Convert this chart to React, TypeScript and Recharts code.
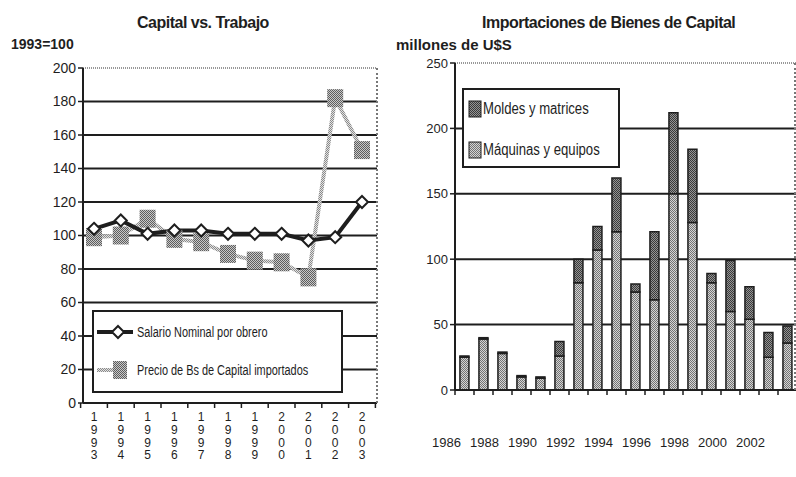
import React from 'react';
import {
  LineChart,
  Line,
  BarChart,
  Bar,
  XAxis,
  YAxis,
  CartesianGrid,
  ReferenceLine,
} from 'recharts';

// Capital vs. Trabajo (1993=100)
const wageYears = ['1993', '1994', '1995', '1996', '1997', '1998', '1999', '2000', '2001', '2002', '2003'];
const salarioNominal = [104, 109, 101, 103, 103, 101, 101, 101, 97, 99, 120];
const precioBsCapital = [99, 100, 110, 98, 96, 89, 85, 84, 75, 182, 151];
const indexTicks = [0, 20, 40, 60, 80, 100, 120, 140, 160, 180, 200];

// Importaciones de Bienes de Capital (millones de U$S)
const importYears = [
  '1986', '1987', '1988', '1989', '1990', '1991', '1992', '1993', '1994',
  '1995', '1996', '1997', '1998', '1999', '2000', '2001', '2002', '2003',
];
const maquinasEquipos = [25, 39, 28, 10, 9, 26, 82, 107, 121, 75, 69, 150, 128, 82, 60, 54, 25, 36];
const moldesMatrices = [1, 1, 1, 1, 1, 11, 18, 18, 41, 6, 52, 62, 56, 7, 39, 25, 19, 13];
const usdTicks = [0, 50, 100, 150, 200, 250];

const wageData = wageYears.map((year, i) => ({
  year,
  salario: salarioNominal[i],
  precio: precioBsCapital[i],
}));

const importData = importYears.map((year, i) => ({
  year,
  maquinas: maquinasEquipos[i],
  moldes: moldesMatrices[i],
}));

const INK = '#1e1e1e';
const FONT = '"Liberation Sans", Arial, Helvetica, sans-serif';
const WAGE_BAND = 26.8;
const IMPORT_BAND = 19;

const Checker = ({ id, light, dark }: { id: string; light: string; dark: string }) => (
  <pattern id={id} width="2" height="2" patternUnits="userSpaceOnUse">
    <rect width="2" height="2" fill={light} />
    <rect width="1" height="1" fill={dark} />
    <rect x="1" y="1" width="1" height="1" fill={dark} />
  </pattern>
);

const Diamond = (props: any) => {
  const { cx, cy } = props;
  if (cx == null || cy == null) return null;
  return (
    <path
      d={`M${cx},${cy - 6} L${cx + 6},${cy} L${cx},${cy + 6} L${cx - 6},${cy} Z`}
      fill="#fff"
      stroke={INK}
      strokeWidth={2}
    />
  );
};

const CheckSquare = (props: any) => {
  const { cx, cy } = props;
  if (cx == null || cy == null) return null;
  return <rect x={cx - 8} y={cy - 9} width={16} height={18} fill="url(#chkMarker)" />;
};

const StackedYearTick = (props: any) => {
  const { x, y, payload, index } = props;
  const digits = String(payload.value).split('');
  return (
    <g>
      {index === 0 && (
        <line x1={x - WAGE_BAND / 2} x2={x - WAGE_BAND / 2} y1={y - 5} y2={y} stroke={INK} strokeWidth={1.5} />
      )}
      <line x1={x + WAGE_BAND / 2} x2={x + WAGE_BAND / 2} y1={y - 5} y2={y} stroke={INK} strokeWidth={1.5} />
      <text x={x} y={y} textAnchor="middle" fontSize={12} fill={INK} fontFamily={FONT}>
        {digits.map((d, i) => (
          <tspan key={i} x={x} dy={i === 0 ? 13 : 12.8}>
            {d}
          </tspan>
        ))}
      </text>
    </g>
  );
};

const ImportYearTick = (props: any) => {
  const { x, y, payload, index } = props;
  const last = index === importYears.length - 1;
  return (
    <g>
      <line x1={x - IMPORT_BAND / 2} x2={x - IMPORT_BAND / 2} y1={y - 5} y2={y} stroke={INK} strokeWidth={1.5} />
      {last && (
        <line x1={x + IMPORT_BAND / 2} x2={x + IMPORT_BAND / 2} y1={y - 5} y2={y} stroke={INK} strokeWidth={1.5} />
      )}
      {index % 2 === 0 && (
        <text x={x - 18} y={y + 52} textAnchor="middle" fontSize={13} fill={INK} fontFamily={FONT}>
          {payload.value}
        </text>
      )}
    </g>
  );
};

const textBase: React.CSSProperties = {
  position: 'absolute',
  whiteSpace: 'nowrap',
  color: INK,
  fontFamily: FONT,
  lineHeight: 1,
};

const App: React.FC = () => {
  return (
    <div
      style={{
        position: 'absolute',
        left: 0,
        top: 0,
        width: 796,
        height: 477,
        background: '#fff',
        overflow: 'hidden',
        fontFamily: FONT,
      }}
    >
      <div style={{ ...textBase, left: 137, top: 15, fontSize: 16, fontWeight: 700, letterSpacing: -0.5 }}>
        Capital vs. Trabajo
      </div>
      <div style={{ ...textBase, left: 11, top: 37, fontSize: 14, fontWeight: 700 }}>1993=100</div>
      <div style={{ ...textBase, left: 482, top: 15, fontSize: 16, fontWeight: 700, letterSpacing: -0.5 }}>
        Importaciones de Bienes de Capital
      </div>
      <div style={{ ...textBase, left: 396, top: 37, fontSize: 15, fontWeight: 700 }}>millones de U$S</div>

      <div style={{ position: 'absolute', left: 0, top: 0 }}>
        <LineChart width={400} height={477} data={wageData} margin={{ top: 68, right: 23, bottom: 14, left: 43 }}>
          <defs>
            <Checker id="chkMarker" light="#c8c8c8" dark="#5e5e5e" />
            <Checker id="chkLine" light="#e2e2e2" dark="#8a8a8a" />
          </defs>
          <CartesianGrid
            vertical={false}
            horizontalValues={indexTicks.slice(1, -1)}
            stroke={INK}
            strokeWidth={2}
          />
          <ReferenceLine y={200} stroke="#777" strokeWidth={1.5} strokeDasharray="1 1" />
          <XAxis
            dataKey="year"
            interval={0}
            height={60}
            padding={{ left: 11, right: 15 }}
            tickSize={5}
            tickMargin={0}
            tickLine={false}
            axisLine={{ stroke: INK, strokeWidth: 2 }}
            tick={<StackedYearTick />}
          />
          <YAxis
            width={40}
            domain={[0, 200]}
            ticks={indexTicks}
            interval={0}
            tickSize={5}
            tickLine={{ stroke: INK, strokeWidth: 1.5 }}
            axisLine={{ stroke: INK, strokeWidth: 2 }}
            tick={{ fill: INK, fontSize: 14, fontFamily: FONT }}
          />
          <Line
            dataKey="precio"
            type="linear"
            stroke="url(#chkLine)"
            strokeWidth={4}
            dot={<CheckSquare />}
            activeDot={false}
            isAnimationActive={false}
          />
          <Line
            dataKey="salario"
            type="linear"
            stroke={INK}
            strokeWidth={4}
            dot={<Diamond />}
            activeDot={false}
            isAnimationActive={false}
          />
        </LineChart>
      </div>
      {/* dotted right frame of the left plot */}
      <div style={{ position: 'absolute', left: 376, top: 68, width: 0, height: 335, borderLeft: '2px dotted #777' }} />

      {/* legend: Capital vs. Trabajo */}
      <div
        style={{
          position: 'absolute',
          left: 92,
          top: 310,
          width: 247,
          height: 79,
          border: `2px solid ${INK}`,
          background: '#fff',
        }}
      >
        <svg width={247} height={79} style={{ position: 'absolute', left: 0, top: 0 }}>
          <defs>
            <Checker id="chkLegendM" light="#c8c8c8" dark="#5e5e5e" />
            <Checker id="chkLegendL" light="#e2e2e2" dark="#8a8a8a" />
          </defs>
          <line x1={3} x2={39} y1={20} y2={20} stroke={INK} strokeWidth={4} />
          <path d="M24,14 L30,20 L24,26 L18,20 Z" fill="#fff" stroke={INK} strokeWidth={2} />
          <line x1={3} x2={30} y1={58} y2={58} stroke="url(#chkLegendL)" strokeWidth={4} />
          <rect x={19} y={49} width={14} height={18} fill="url(#chkLegendM)" />
        </svg>
        <div
          style={{ ...textBase, left: 43, top: 13, fontSize: 14, transform: 'scaleX(0.78)', transformOrigin: 'left' }}
        >
          Salario Nominal por obrero
        </div>
        <div
          style={{ ...textBase, left: 43, top: 51, fontSize: 14, transform: 'scaleX(0.78)', transformOrigin: 'left' }}
        >
          Precio de Bs de Capital importados
        </div>
      </div>

      <div style={{ position: 'absolute', left: 398, top: 0 }}>
        <BarChart
          width={400}
          height={477}
          data={importData}
          margin={{ top: 63, right: 1, bottom: 27, left: 17 }}
          barCategoryGap="26%"
        >
          <defs>
            <Checker id="chkMaq" light="#d4d4d4" dark="#747474" />
            <Checker id="chkMol" light="#949494" dark="#3a3a3a" />
          </defs>
          <CartesianGrid
            vertical={false}
            horizontalValues={usdTicks.slice(1, -1)}
            stroke={INK}
            strokeWidth={2}
          />
          <ReferenceLine y={250} stroke="#777" strokeWidth={1.5} strokeDasharray="1 1" />
          <XAxis
            dataKey="year"
            interval={0}
            height={60}
            tickSize={5}
            tickMargin={0}
            tickLine={false}
            axisLine={{ stroke: INK, strokeWidth: 2 }}
            tick={<ImportYearTick />}
          />
          <YAxis
            width={40}
            domain={[0, 250]}
            ticks={usdTicks}
            interval={0}
            tickSize={5}
            tickLine={{ stroke: INK, strokeWidth: 1.5 }}
            axisLine={{ stroke: INK, strokeWidth: 2 }}
            tick={{ fill: INK, fontSize: 13, fontFamily: FONT }}
          />
          <Bar dataKey="maquinas" stackId="imp" fill="url(#chkMaq)" stroke={INK} strokeWidth={1.5} isAnimationActive={false} />
          <Bar dataKey="moldes" stackId="imp" fill="url(#chkMol)" stroke={INK} strokeWidth={1.5} isAnimationActive={false} />
        </BarChart>
      </div>
      {/* dotted right frame of the right plot */}
      <div style={{ position: 'absolute', left: 794, top: 63, width: 0, height: 327, borderLeft: '2px dotted #777' }} />

      {/* legend: Importaciones */}
      <div
        style={{
          position: 'absolute',
          left: 462,
          top: 88,
          width: 154,
          height: 76,
          border: `2px solid ${INK}`,
          background: '#fff',
        }}
      >
        <svg width={20} height={76} style={{ position: 'absolute', left: 0, top: 0 }}>
          <defs>
            <Checker id="chkLegMol" light="#949494" dark="#3a3a3a" />
            <Checker id="chkLegMaq" light="#d4d4d4" dark="#747474" />
          </defs>
          <rect x={5} y={11} width={12} height={16} fill="url(#chkLegMol)" stroke={INK} strokeWidth={1} />
          <rect x={5} y={52} width={12} height={16} fill="url(#chkLegMaq)" stroke={INK} strokeWidth={1} />
        </svg>
        <div
          style={{ ...textBase, left: 19, top: 11, fontSize: 16, transform: 'scaleX(0.82)', transformOrigin: 'left' }}
        >
          Moldes y matrices
        </div>
        <div
          style={{ ...textBase, left: 19, top: 52, fontSize: 16, transform: 'scaleX(0.82)', transformOrigin: 'left' }}
        >
          Máquinas y equipos
        </div>
      </div>
    </div>
  );
};

export default App;
